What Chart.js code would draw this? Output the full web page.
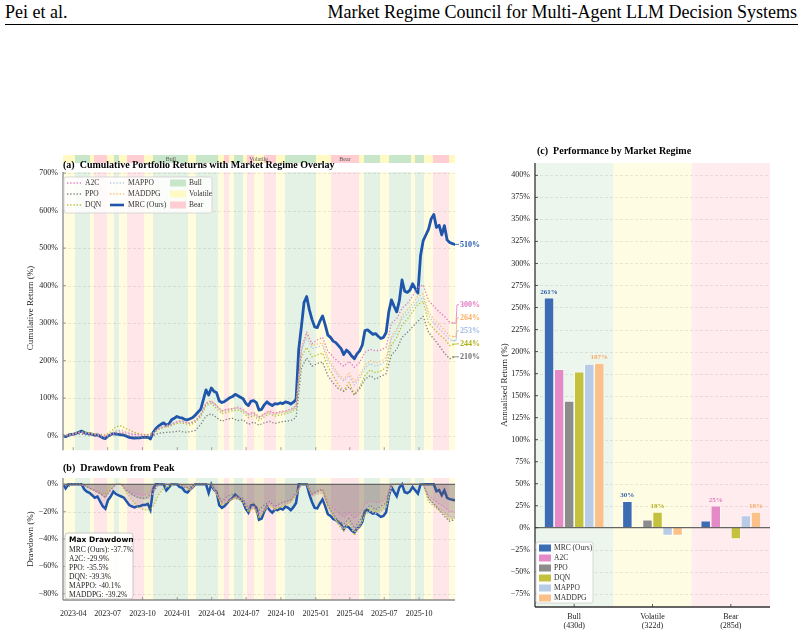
<!DOCTYPE html>
<html><head><meta charset="utf-8">
<script src="https://cdn.jsdelivr.net/npm/chart.js@4.4.1/dist/chart.umd.min.js"></script>
<style>
html,body{margin:0;padding:0;background:#fff}
body{width:804px;height:634px;position:relative;overflow:hidden;font-family:"Liberation Serif",serif}
canvas{position:absolute}
.hd{position:absolute;top:2px;font-family:"Liberation Serif",serif;font-size:18px;line-height:20px;color:#000;white-space:nowrap}
</style></head><body>
<div class="hd" style="left:5px">Pei et al.</div>
<div class="hd" style="right:7px">Market Regime Council for Multi-Agent LLM Decision Systems</div>
<div style="position:absolute;left:5px;width:793px;top:24px;height:1px;background:#000"></div>
<canvas id="ca" width="500" height="320" style="left:0;top:140px"></canvas>
<canvas id="cb" width="500" height="174" style="left:0;top:460px"></canvas>
<canvas id="cc" width="314" height="494" style="left:490px;top:140px"></canvas>
<script>
// ================= DATA =================
const totalDays = 1036;
const mrcStepDays = 7;
const baseStepDays = 14;
// cumulative returns (%) of MRC, one value every 7 days
const mrcCum = [0,-3,1,3,4,6,9,12,8,6, 5,3,1,2,-2,-6,-8,-1,2,6, 4,3,2,1,-2,-5,-6,-7,-6,-6,
 -5,-5,-4,-9,8,18,25,30,34,28, 31,42,46,51,48,47,43,42,45,48, 55,63,70,96,122,108,127,118,114,92,
 88,91,96,101,104,110,106,102,98,86, 80,92,93,88,68,70,82,90,84,80, 85,84,87,85,90,88,84,89,96,230,
 290,355,371,336,310,290,288,305,319,295, 268,262,252,248,240,232,216,228,222,212, 205,218,226,241,280,282,276,270,272,265,
 259,262,275,330,362,345,330,360,415,385, 382,388,405,392,380,480,520,535,550,578, 590,555,561,535,560,522,515,512,510];
// cumulative returns (%) of baselines, one value every 14 days
const a2cCum = [0,2,4,8,7,5,3,1,-3,3, 8,10,6,3,2,1,2,6,18,24, 26,34,38,36,32,40,55,86,92,80,
 66,70,72,76,70,58,62,50,58,66, 60,64,66,70,80,230,276,245,255,262, 225,210,196,185,198,182,195,222,230,226,
 228,236,300,312,340,352,372,395,402,360, 345,330,318,302,300];
const ppoCum = [0,-2,2,4,3,1,-1,-3,-6,0, 4,6,1,-2,-4,-5,-4,0,6,8, 9,10,12,9,10,14,30,52,58,48,
 38,44,46,40,42,30,36,28,34,38, 32,36,38,40,48,180,207,185,192,196, 160,140,125,118,130,108,125,150,160,150,
 158,165,215,230,262,275,290,305,318,275, 258,240,220,205,210];
const dqnCum = [0,2,5,9,10,7,5,3,2,10, 24,26,18,12,6,3,2,5,16,22, 24,30,34,32,28,36,50,80,86,72,
 58,62,66,68,62,48,54,40,50,58, 52,55,58,62,72,210,235,210,215,220, 185,160,135,120,142,110,130,160,175,168,
 172,182,240,262,295,310,330,350,358,300, 285,270,258,240,244];
const mappoCum = [0,1,4,8,8,6,3,1,-2,4, 12,14,9,5,3,2,2,6,18,25, 27,34,38,36,33,40,55,84,90,78,
 63,67,70,72,66,54,58,46,55,62, 56,60,62,66,76,225,262,232,236,240, 200,178,158,145,160,135,152,180,192,185,
 190,200,258,278,312,325,342,360,368,320, 300,285,272,256,253];
const maddpgCum = [0,2,4,8,9,6,4,2,-1,5, 13,15,10,6,4,3,3,7,19,26, 28,35,40,38,34,42,57,88,94,80,
 65,69,72,74,68,56,60,48,57,64, 58,62,64,68,78,235,272,240,244,248, 208,186,165,150,168,142,160,188,200,194,
 198,208,265,285,320,335,352,372,378,330, 310,295,282,266,264];
const startDateLabel = '2023-03-05';
const xTickLabels = ['2023-04','2023-07','2023-10','2024-01','2024-04','2024-07','2024-10','2025-01','2025-04','2025-07','2025-10'];
const regimeEdges = [0,31,71,81,115,136,147,168,215,239,331,352,410,426,439,452,476,487,505,531,563,587,668,708,782,795,837,861,919,929,953,977,1019,1036];
const regimeKinds = ['Volatile','Bull','Volatile','Bear','Volatile','Bull','Volatile','Bear','Volatile','Bull',
 'Volatile','Bull','Volatile','Bear','Volatile','Bull','Volatile','Bear','Volatile','Bear',
 'Volatile','Bull','Volatile','Bear','Volatile','Bull','Volatile','Bull','Volatile','Bull','Volatile','Bear','Volatile'];
const regimeCats = ['Bull','Volatile','Bear'];
const regimeDayCounts = [430,322,285];
// annualised return (%) per regime
const annMRC = [261,30,8];
const annA2C = [180,0.5,25];
const annPPO = [144,9,-0.5];
const annDQN = [177,18,-13];
const annMAPPO = [186,-9,14];
const annMADDPG = [187,-9,18];
const maxDDNames = ['MRC (Ours)','A2C','PPO','DQN','MAPPO','MADDPG'];
const maxDDValues = [-37.7,-29.9,-35.5,-39.3,-40.1,-39.2];
const yTicksA = [0,100,200,300,400,500,600,700];
const yTicksB = [0,-20,-40,-60,-80];
const yTicksC = [-75,-50,-25,0,25,50,75,100,125,150,175,200,225,250,275,300,325,350,375,400];

// ================= STYLE =================
const F = "'Liberation Serif','Times New Roman',serif";
Chart.defaults.font.family = F;
Chart.defaults.font.size = 8;
Chart.defaults.color = '#222';
const bandFill = {Bull:'rgba(200,230,201,0.5)',Volatile:'rgba(255,249,196,0.55)',Bear:'rgba(255,205,210,0.5)'};
const stripFill = {Bull:'#c8e6c9',Volatile:'#fff9c4',Bear:'#ffcdd2'};
const stripLabelDay = {Bull:285,Volatile:517,Bear:745};
const series = [
  {name:'A2C',data:a2cCum,step:baseStepDays,color:'#e377c2'},
  {name:'PPO',data:ppoCum,step:baseStepDays,color:'#7f7f7f'},
  {name:'DQN',data:dqnCum,step:baseStepDays,color:'#bcbd22'},
  {name:'MAPPO',data:mappoCum,step:baseStepDays,color:'#aec7e8'},
  {name:'MADDPG',data:maddpgCum,step:baseStepDays,color:'#ffbb78'},
  {name:'MRC (Ours)',data:mrcCum,step:mrcStepDays,color:'#1f55ab',main:true}
];
const labelColors = {'A2C':'#e377c2','PPO':'#6f6f6f','DQN':'#b0b11a','MAPPO':'#9dbbe3','MADDPG':'#fdae62','MRC (Ours)':'#1f55ab'};
const barSeries = [
  {name:'MRC (Ours)',data:annMRC,fill:'#3b6cb4',text:'#2f5fae'},
  {name:'A2C',data:annA2C,fill:'#e48ac7',text:'#e07cc0'},
  {name:'PPO',data:annPPO,fill:'#8c8c8c',text:'#777'},
  {name:'DQN',data:annDQN,fill:'#c4c23c',text:'#b5b51e'},
  {name:'MAPPO',data:annMAPPO,fill:'#b8cce8',text:'#9dbbe3'},
  {name:'MADDPG',data:annMADDPG,fill:'#fcc188',text:'#f7ad66'}
];

const startMs = Date.parse(startDateLabel+'T00:00:00Z');
const xTickDays = xTickLabels.map(s=>{const [y,m]=s.split('-').map(Number);return Math.round((Date.UTC(y,m-1,1)-startMs)/864e5);});
const pts = s => s.data.map((v,i)=>({x:Math.min(i*s.step,totalDays),y:v}));
const ddPts = s => {let pk=-1e9;return s.data.map((v,i)=>{pk=Math.max(pk,v);return {x:Math.min(i*s.step,totalDays),y:((1+v/100)/(1+pk/100)-1)*100};});};
const fmtPct = v => (v<0?'\u2212'+(-v):''+v)+'%';

// ================= HELPERS =================
function rr(ctx,x,y,w,h,r){ctx.beginPath();ctx.moveTo(x+r,y);ctx.lineTo(x+w-r,y);ctx.arcTo(x+w,y,x+w,y+r,r);ctx.lineTo(x+w,y+h-r);ctx.arcTo(x+w,y+h,x+w-r,y+h,r);ctx.lineTo(x+r,y+h);ctx.arcTo(x,y+h,x,y+h-r,r);ctx.lineTo(x,y+r);ctx.arcTo(x,y,x+r,y,r);ctx.closePath();}
function drawBands(c,strip){
  const {ctx,chartArea:a,scales:{x}}=c; ctx.save();
  for(let i=0;i<regimeKinds.length;i++){
    const x0=Math.round(x.getPixelForValue(regimeEdges[i])),x1=Math.round(x.getPixelForValue(regimeEdges[i+1]));
    ctx.fillStyle=bandFill[regimeKinds[i]]; ctx.fillRect(x0,a.top,x1-x0,a.bottom-a.top);
    if(strip){ctx.fillStyle=stripFill[regimeKinds[i]];ctx.fillRect(x0,a.top-17,x1-x0,8);}
  }
  if(strip){ctx.font='6px '+F;ctx.fillStyle='#555';ctx.textAlign='center';ctx.textBaseline='middle';
    for(const k in stripLabelDay) ctx.fillText(k,x.getPixelForValue(stripLabelDay[k]),a.top-13);}
  ctx.restore();
}
function hGrid(c,vals){
  const {ctx,chartArea:a,scales:{y}}=c; ctx.save();
  ctx.strokeStyle='rgba(0,0,0,0.12)';ctx.lineWidth=0.7;ctx.setLineDash([3,2]);
  vals.forEach(v=>{const p=Math.round(y.getPixelForValue(v))+0.5;ctx.beginPath();ctx.moveTo(a.left,p);ctx.lineTo(a.right,p);ctx.stroke();});
  ctx.restore();
}
function spines(c,yvals,xvals,col,bottom){
  const {ctx,chartArea:a,scales:{x,y}}=c; ctx.save(); ctx.strokeStyle=col; ctx.lineWidth=1.3;
  ctx.beginPath();ctx.moveTo(a.left,a.top);ctx.lineTo(a.left,a.bottom);ctx.stroke();
  if(bottom){ctx.beginPath();ctx.moveTo(a.left,a.bottom);ctx.lineTo(a.right,a.bottom);ctx.stroke();}
  ctx.lineWidth=0.8;
  yvals.forEach(v=>{const p=y.getPixelForValue(v);ctx.beginPath();ctx.moveTo(a.left,p);ctx.lineTo(a.left+3,p);ctx.stroke();});
  xvals.forEach(px=>{ctx.beginPath();ctx.moveTo(px,a.bottom);ctx.lineTo(px,a.bottom-3);ctx.stroke();});
  ctx.restore();
}
function title(c,text,x,y){const ctx=c.ctx;ctx.save();ctx.font='bold 10px '+F;ctx.fillStyle='#000';ctx.textAlign='left';ctx.textBaseline='alphabetic';ctx.fillText(text,x,y);ctx.restore();}
function yTitle(c,text,x,y){const ctx=c.ctx;ctx.save();ctx.translate(x,y);ctx.rotate(-Math.PI/2);ctx.font='9px '+F;ctx.fillStyle='#222';ctx.textAlign='center';ctx.textBaseline='middle';ctx.fillText(text,0,0);ctx.restore();}
function zeroLine(c,col,w){const {ctx,chartArea:a,scales:{y}}=c;const p=y.getPixelForValue(0);ctx.save();ctx.strokeStyle=col;ctx.lineWidth=w;ctx.beginPath();ctx.moveTo(a.left,p);ctx.lineTo(a.right,p);ctx.stroke();ctx.restore();}
const base = {responsive:false,animation:false,devicePixelRatio:1,events:[],plugins:{legend:{display:false},tooltip:{enabled:false}}};

// ================= PANEL A =================
new Chart(document.getElementById('ca'),{
  type:'line',
  data:{datasets:series.map(s=>({label:s.name,data:pts(s),borderColor:s.color,borderWidth:s.main?2.8:1.3,
    borderDash:s.main?[]:[1.3,1.9],borderCapStyle:s.main?'round':'butt',borderJoinStyle:'round',pointRadius:0,tension:0,fill:false}))},
  options:{...base,layout:{padding:{left:0,top:32,right:45,bottom:2}},
    scales:{
      x:{type:'linear',display:false,min:0,max:totalDays},
      y:{min:-39,max:703,afterBuildTicks:s=>{s.ticks=yTicksA.map(v=>({value:v}));},
        ticks:{callback:v=>fmtPct(v),padding:5,font:{size:8},color:'#222'},
        grid:{display:false,drawTicks:false},border:{display:false},afterFit:s=>{s.width=63;}}
    }},
  plugins:[{id:'pa',
    beforeDraw(c){drawBands(c,true);},
    beforeDatasetsDraw(c){hGrid(c,yTicksA);},
    afterDatasetsDraw(c){
      const {ctx,chartArea:a,scales:{x,y}}=c;
      spines(c,yTicksA,xTickDays.map(d=>x.getPixelForValue(d)),'#8a8a8a',false);
      title(c,'(a)  Cumulative Portfolio Returns with Market Regime Overlay',a.left,a.top-4);
      yTitle(c,'Cumulative Return (%)',31,(a.top+a.bottom)/2-3);
      // end labels
      const items=series.map(s=>{const v=s.data[s.data.length-1];return {name:s.name,val:v,py:y.getPixelForValue(v)};});
      items.sort((p,q)=>q.py-p.py); let prev=1e9;
      items.forEach(it=>{it.ly=Math.min(it.py,prev-13);prev=it.ly;});
      ctx.save();ctx.font='bold 8px '+F;ctx.textAlign='left';ctx.textBaseline='middle';
      items.forEach(it=>{const col=labelColors[it.name];ctx.strokeStyle=col;ctx.lineWidth=0.8;
        ctx.beginPath();ctx.moveTo(a.right-3,it.py);ctx.lineTo(a.right+1,it.py);ctx.lineTo(a.right+2,it.ly);ctx.lineTo(a.right+4,it.ly);ctx.stroke();
        ctx.fillStyle=col;ctx.fillText(Math.round(it.val)+'%',a.right+5,it.ly+0.5);});
      ctx.restore();
      // legend
      const L=a.left+1,T=a.top+5;ctx.save();rr(ctx,L,T,148,36,2);ctx.fillStyle='rgba(255,255,255,0.85)';ctx.fill();
      ctx.strokeStyle='#cfcfcf';ctx.lineWidth=0.8;ctx.stroke();
      ctx.font='7.5px '+F;ctx.textBaseline='middle';ctx.textAlign='left';
      series.forEach((s,i)=>{const col=Math.floor(i/3),row=i%3;const yy=T+6+row*11;const x0=L+3+col*43;
        ctx.strokeStyle=s.color;ctx.lineWidth=s.main?2.6:1.3;ctx.setLineDash(s.main?[]:[1.3,1.9]);
        ctx.beginPath();ctx.moveTo(x0,yy);ctx.lineTo(x0+14,yy);ctx.stroke();ctx.setLineDash([]);
        ctx.fillStyle='#333';ctx.fillText(s.name,x0+18,yy+0.5);});
      regimeCats.forEach((k,i)=>{const yy=T+6+i*11;ctx.fillStyle=stripFill[k];ctx.fillRect(L+106,yy-3.5,16,7);
        ctx.fillStyle='#333';ctx.fillText(k,L+125,yy+0.5);});
      ctx.restore();
    }}]
});

// ================= PANEL B =================
new Chart(document.getElementById('cb'),{
  type:'line',
  data:{datasets:series.map(s=>({label:s.name,data:ddPts(s),borderColor:s.color,borderWidth:s.main?2.5:1.2,
    borderDash:s.main?[]:[1.3,1.9],borderCapStyle:'butt',pointRadius:0,tension:0,fill:'origin',
    backgroundColor:s.main?'rgba(90,80,80,0.12)':'rgba(120,95,95,0.08)'}))},
  options:{...base,layout:{padding:{left:0,top:18,right:45,bottom:14}},
    scales:{
      x:{type:'linear',min:0,max:totalDays,afterBuildTicks:s=>{s.ticks=xTickDays.map(v=>({value:v}));},
        ticks:{callback:v=>{const i=xTickDays.indexOf(v);return i>=0?xTickLabels[i]:'';},autoSkip:false,maxRotation:0,padding:9,font:{size:8},color:'#222'},
        grid:{display:false,drawTicks:false},border:{display:false},afterFit:s=>{s.height=20;}},
      y:{min:-84.6,max:4.6,afterBuildTicks:s=>{s.ticks=yTicksB.map(v=>({value:v}));},
        ticks:{callback:v=>fmtPct(v),padding:5,font:{size:8},color:'#222'},
        grid:{display:false,drawTicks:false},border:{display:false},afterFit:s=>{s.width=63;}}
    }},
  plugins:[{id:'pb',
    beforeDraw(c){drawBands(c,false);},
    beforeDatasetsDraw(c){hGrid(c,yTicksB.slice(1));},
    afterDatasetsDraw(c){
      const {ctx,chartArea:a,scales:{x}}=c;
      zeroLine(c,'#666',1.2);
      spines(c,yTicksB,xTickDays.map(d=>x.getPixelForValue(d)),'#8a8a8a',true);
      title(c,'(b)  Drawdown from Peak',a.left,a.top-7);
      yTitle(c,'Drawdown (%)',31,(a.top+a.bottom)/2);
      const L=a.left+2,T=a.top+55;ctx.save();rr(ctx,L,T,68,66,3);ctx.fillStyle='rgba(255,255,255,0.92)';ctx.fill();
      ctx.strokeStyle='#bbb';ctx.lineWidth=0.8;ctx.stroke();
      ctx.textAlign='left';ctx.textBaseline='middle';ctx.fillStyle='#000';
      ctx.font="bold 7.5px 'DejaVu Sans',sans-serif";ctx.fillText('Max Drawdown',L+4,T+7);
      ctx.font='7.5px '+F;ctx.fillStyle='#222';
      maxDDNames.forEach((n,i)=>ctx.fillText(n+': '+maxDDValues[i].toFixed(1)+'%',L+4,T+17+i*9));
      ctx.restore();
    }}]
});

// ================= PANEL C =================
new Chart(document.getElementById('cc'),{
  type:'bar',
  data:{labels:regimeCats.map((k,i)=>[k,'('+regimeDayCounts[i]+'d)']),
    datasets:barSeries.map(s=>({label:s.name,data:s.data,backgroundColor:s.fill,borderColor:'rgba(255,255,255,0.9)',borderWidth:0.8,
      categoryPercentage:0.77,barPercentage:1}))},
  options:{...base,layout:{padding:{left:0,top:23,right:34,bottom:3}},
    scales:{
      x:{ticks:{padding:5,font:{size:8},color:'#222'},grid:{display:false,drawTicks:false},border:{display:false},afterFit:s=>{s.height=24;}},
      y:{min:-90,max:414,afterBuildTicks:s=>{s.ticks=yTicksC.map(v=>({value:v}));},
        ticks:{callback:v=>fmtPct(v),padding:5,font:{size:8},color:'#222'},
        grid:{display:false,drawTicks:false},border:{display:false},afterFit:s=>{s.width=45;}}
    }},
  plugins:[{id:'pc',
    beforeDraw(c){const {ctx,chartArea:a}=c;const w=(a.right-a.left)/3;const cols=['rgba(200,230,201,0.35)','rgba(255,249,196,0.45)','rgba(255,205,210,0.38)'];
      ctx.save();cols.forEach((col,i)=>{ctx.fillStyle=col;ctx.fillRect(a.left+i*w,a.top,w,a.bottom-a.top);});ctx.restore();},
    beforeDatasetsDraw(c){hGrid(c,yTicksC.filter(v=>v!==0));},
    afterDatasetsDraw(c){
      const {ctx,chartArea:a,scales:{x}}=c;
      zeroLine(c,'#666',1.3);
      spines(c,yTicksC,regimeCats.map((k,i)=>x.getPixelForValue(i)),'#333',true);
      title(c,'(c)  Performance by Market Regime',a.left+2,a.top-9);
      yTitle(c,'Annualised Return (%)',15,(a.top+a.bottom)/2);
      ctx.save();ctx.font='bold 7px '+F;ctx.textAlign='center';ctx.textBaseline='alphabetic';
      regimeCats.forEach((k,i)=>{const idx=barSeries.map((s,j)=>j).sort((p,q)=>barSeries[q].data[i]-barSeries[p].data[i]).slice(0,2);
        idx.forEach(j=>{const el=c.getDatasetMeta(j).data[i];ctx.fillStyle=barSeries[j].text;ctx.fillText(Math.round(barSeries[j].data[i])+'%',el.x,el.y-4);});});
      ctx.restore();
      const L=a.left+1,T=a.bottom-65;ctx.save();rr(ctx,L,T,57,61,2);ctx.fillStyle='rgba(255,255,255,0.9)';ctx.fill();
      ctx.strokeStyle='#ccc';ctx.lineWidth=0.8;ctx.stroke();
      ctx.font='7.5px '+F;ctx.textAlign='left';ctx.textBaseline='middle';
      barSeries.forEach((s,i)=>{const yy=T+6+i*10;ctx.fillStyle=s.fill;ctx.fillRect(L+3,yy-3.5,12,7);ctx.fillStyle='#333';ctx.fillText(s.name,L+18,yy+0.5);});
      ctx.restore();
    }}]
});
</script></body></html>
